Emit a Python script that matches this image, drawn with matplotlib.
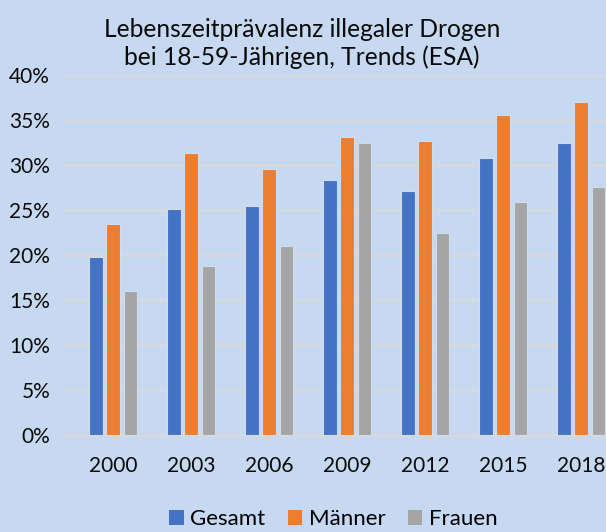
import matplotlib.pyplot as plt
import numpy as np
from matplotlib.patches import Patch
from matplotlib.ticker import PercentFormatter

# data
years = ["2000", "2003", "2006", "2009", "2012", "2015", "2018"]
gesamt = [19.8, 25.1, 25.4, 28.3, 27.1, 30.8, 32.4]
maenner = [23.4, 31.3, 29.6, 33.1, 32.7, 35.6, 37.0]
frauen = [16.0, 18.8, 21.0, 32.5, 22.4, 25.9, 27.6]
series_names = ["Gesamt", "Männer", "Frauen"]

BG = "#C6D9F0"
COLORS = ["#4472C4", "#ED7D31", "#A5A5A5"]
GRID = "#D6D9DE"

plt.rcParams["font.family"] = ["Lato", "DejaVu Sans"]

fig = plt.figure(figsize=(6.06, 5.32), dpi=100, facecolor=BG)
ax = fig.add_axes([64 / 606, 1 - 435 / 532, 1 - 64 / 606, (435 - 75) / 532])
ax.set_facecolor(BG)

x = np.arange(len(years))
width = 0.175
step = 0.222
for i, (vals, color) in enumerate(zip([gesamt, maenner, frauen], COLORS)):
    ax.bar(x + (i - 1) * step, vals, width=width, color=color,
           edgecolor="#D0DCEB", linewidth=0.8, zorder=3)

ax.set_ylim(0, 40)
ax.set_yticks(np.arange(0, 41, 5))
ax.yaxis.set_major_formatter(PercentFormatter(decimals=0))
ax.set_xlim(-0.63, 6.32)
ax.set_xticks(x)
ax.set_xticklabels(years)

ax.grid(axis="y", color=GRID, linewidth=2, zorder=0)
for s in ["top", "right", "left"]:
    ax.spines[s].set_visible(False)
ax.spines["bottom"].set_color(GRID)
ax.spines["bottom"].set_linewidth(2)
ax.tick_params(axis="both", length=0, labelsize=15, colors="#0A0A0A")
ax.tick_params(axis="y", pad=10)
ax.tick_params(axis="x", pad=15)

fig.text(0.498, 0.918, "Lebenszeitprävalenz illegaler Drogen\nbei 18-59-Jährigen, Trends (ESA)",
         ha="center", va="center", fontsize=17.7, linespacing=1.25, color="#0A0A0A")

handles = [Patch(facecolor=c, edgecolor="none") for c in COLORS]
fig.legend(handles, series_names, loc="center", bbox_to_anchor=(0.55, 0.024),
           ncol=3, frameon=False, fontsize=16, handlelength=0.65, handleheight=0.65,
           handletextpad=0.3, columnspacing=1.0)

fig.savefig("out.png", dpi=100, facecolor=BG)
